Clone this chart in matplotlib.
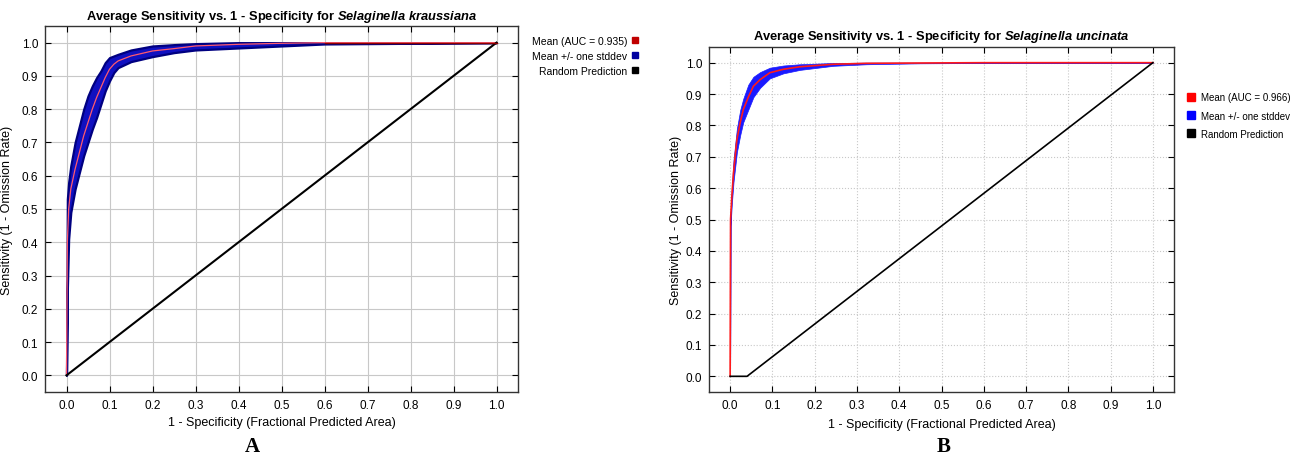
import matplotlib.pyplot as plt
from matplotlib.lines import Line2D
import numpy as np

plt.rcParams['font.family'] = ['Liberation Sans', 'DejaVu Sans']
plt.rcParams['mathtext.fontset'] = 'custom'
plt.rcParams['mathtext.it'] = 'Liberation Sans:italic'
plt.rcParams['mathtext.bf'] = 'Liberation Sans:bold'
plt.rcParams['mathtext.bfit'] = 'Liberation Sans:italic:bold'
plt.rcParams['mathtext.rm'] = 'Liberation Sans'

# panel A - Selaginella kraussiana
xa = [0, 0.002, 0.005, 0.01, 0.02, 0.03, 0.04, 0.05, 0.06, 0.07, 0.08, 0.09,
      0.1, 0.11, 0.12, 0.15, 0.2, 0.25, 0.3, 0.4, 0.5, 0.6, 1.0]
mean_a = [0, 0.40, 0.50, 0.56, 0.62, 0.67, 0.72, 0.76, 0.80, 0.835, 0.865, 0.895,
          0.92, 0.935, 0.945, 0.96, 0.975, 0.982, 0.99, 0.995, 0.998, 1.0, 1.0]
upper_a = [0, 0.53, 0.58, 0.63, 0.70, 0.75, 0.80, 0.84, 0.87, 0.895, 0.915, 0.94,
           0.955, 0.96, 0.965, 0.978, 0.99, 0.994, 0.997, 1.0, 1.0, 1.0, 1.0]
lower_a = [0, 0.26, 0.41, 0.49, 0.56, 0.61, 0.66, 0.70, 0.74, 0.775, 0.815, 0.855,
           0.885, 0.91, 0.925, 0.943, 0.958, 0.97, 0.978, 0.984, 0.99, 0.996, 1.0]
rand_xa = [0, 1]
rand_ya = [0, 1]

# panel B - Selaginella uncinata
xb = [0, 0.001, 0.004, 0.008, 0.016, 0.024, 0.031, 0.043, 0.055, 0.071, 0.094,
      0.126, 0.165, 0.244, 0.323, 0.45, 0.6, 1.0]
mean_b = [0, 0.5, 0.574, 0.65, 0.755, 0.81, 0.85, 0.89, 0.925, 0.946, 0.968,
          0.979, 0.987, 0.995, 0.998, 0.999, 1.0, 1.0]
upper_b = [0, 0.52, 0.6, 0.69, 0.79, 0.85, 0.885, 0.93, 0.955, 0.97, 0.984,
           0.991, 0.995, 0.999, 1.0, 1.0, 1.0, 1.0]
lower_b = [0, 0.48, 0.55, 0.62, 0.715, 0.77, 0.81, 0.85, 0.89, 0.92, 0.95,
           0.966, 0.977, 0.99, 0.995, 0.998, 0.999, 1.0]
rand_xb = [0, 0.04, 1]
rand_yb = [0, 0, 1]

ticks = np.round(np.arange(0, 1.01, 0.1), 1)
tick_labels = ['%.1f' % t for t in ticks]

fig = plt.figure(figsize=(13.01, 4.64), dpi=100)
axA = fig.add_axes([45 / 1301, 1 - 393 / 464, 473 / 1301, 366 / 464])
axB = fig.add_axes([709 / 1301, 1 - 393 / 464, 465 / 1301, 345 / 464])


def style(ax, grid_ls, xlab_y, ylab_x):
    ax.set_xlim(-0.05, 1.05)
    ax.set_ylim(-0.05, 1.05)
    ax.set_xticks(ticks)
    ax.set_yticks(ticks)
    ax.set_xticklabels(tick_labels)
    ax.set_yticklabels(tick_labels)
    ax.tick_params(direction='in', top=True, right=True, length=4, labelsize=8.5, pad=5)
    ax.grid(True, color='#c8c8c8', linestyle=grid_ls, linewidth=0.8)
    ax.set_axisbelow(True)
    for s in ax.spines.values():
        s.set_linewidth(1.0)
        s.set_color('#333333')
    ax.set_xlabel('1 - Specificity (Fractional Predicted Area)', fontsize=9)
    ax.set_ylabel('Sensitivity (1 - Omission Rate)', fontsize=9)
    ax.xaxis.set_label_coords(0.5, xlab_y)
    ax.yaxis.set_label_coords(ylab_x, 0.5)


# A
axA.fill_between(xa, lower_a, upper_a, color='#1010c0', edgecolor='#000080', linewidth=1.6, zorder=2)
axA.plot(xa, mean_a, color='#ff5a6e', linewidth=0.9, zorder=3)
axA.plot(rand_xa, rand_ya, color='black', linewidth=1.5, zorder=3)
axA.plot([1.0, 0.6], [1.0, 1.0], color='#8b0000', linewidth=1.0, zorder=3)
style(axA, '-', -0.065, -0.068)
axA.set_title('Average Sensitivity vs. 1 - Specificity for $\\mathbfit{Selaginella\\ kraussiana}$',
              fontsize=9.3, fontweight='bold', pad=5)
hA = [Line2D([], [], ls='none', marker='s', ms=4, color='#c00000'),
      Line2D([], [], ls='none', marker='s', ms=4, color='#0000a0'),
      Line2D([], [], ls='none', marker='s', ms=4, color='black')]
axA.legend(hA, ['Mean (AUC = 0.935)', 'Mean +/- one stddev', 'Random Prediction'],
           markerfirst=False, frameon=False, loc='upper left', bbox_to_anchor=(1.02, 0.985),
           fontsize=7.5, handlelength=0.8, handletextpad=0.4, labelspacing=0.5, borderaxespad=0)

# B
axB.fill_between(xb, lower_b, upper_b, color='#1a1aff', linewidth=0.5, zorder=2)
axB.plot(xb, mean_b, color='#ff1a1a', linewidth=1.2, zorder=3)
axB.plot(rand_xb, rand_yb, color='black', linewidth=1.2, zorder=3)
style(axB, ':', -0.075, -0.058)
axB.set_title('Average Sensitivity vs. 1 - Specificity for $\\mathbfit{Selaginella\\ uncinata}$',
              fontsize=9.3, fontweight='bold', pad=6)
hB = [Line2D([], [], ls='none', marker='s', ms=6, color='#ff0000'),
      Line2D([], [], ls='none', marker='s', ms=6, color='#0000ff'),
      Line2D([], [], ls='none', marker='s', ms=6, color='black')]
axB.legend(hB, ['Mean (AUC = 0.966)', 'Mean +/- one stddev', 'Random Prediction'],
           frameon=False, loc='upper left', bbox_to_anchor=(1.02, 0.88),
           fontsize=7, handlelength=0.8, handletextpad=0.6, labelspacing=0.85, borderaxespad=0)

fig.text(0.194, 0.025, 'A', family='Liberation Serif', fontweight='bold', fontsize=15, ha='center')
fig.text(0.725, 0.025, 'B', family='Liberation Serif', fontweight='bold', fontsize=15, ha='center')

fig.savefig('out.png', dpi=100)
